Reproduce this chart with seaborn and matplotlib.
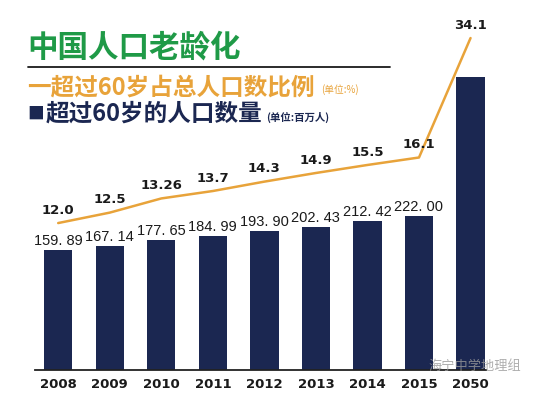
import numpy as np
import pandas as pd
import matplotlib
matplotlib.use("Agg")
import matplotlib.pyplot as plt
from matplotlib.lines import Line2D
import seaborn as sns

years = ["2008", "2009", "2010", "2011", "2012", "2013", "2014", "2015", "2050"]
elderly_millions = [159.89, 167.14, 177.65, 184.99, 193.90, 202.43, 212.42, 222.00, 476.0]
bar_labels = ["159. 89", "167. 14", "177. 65", "184. 99", "193. 90", "202. 43", "212. 42", "222. 00", ""]
share_pct = [12.0, 12.5, 13.26, 13.7, 14.3, 14.9, 15.5, 16.1, 34.1]
share_labels = ["12.0", "12.5", "13.26", "13.7", "14.3", "14.9", "15.5", "16.1", "34.1"]

NAVY = "#1b2751"
ORANGE = "#e8a33a"
GREEN = "#1f9a47"

sns.set_style("white")
plt.rcParams["font.family"] = ["Noto Sans CJK SC", "DejaVu Sans"]

W, H = 533, 396
fig = plt.figure(figsize=(W / 100, H / 100), dpi=100)
fig.patch.set_facecolor("white")

def fx(px):
    return px / W

def fy(py):
    return 1 - py / H

ax = fig.add_axes([fx(35), fy(370), fx(486) - fx(35), fy(30) - fy(370)])
df = pd.DataFrame({"year": years, "value": elderly_millions})
sns.barplot(data=df, x="year", y="value", color=NAVY, width=0.55, saturation=1,
            ax=ax, errorbar=None)
ymin, ymax = -59.4, 562
ax.set_ylim(ymin, ymax)
ax.set_xlim(-0.45, 8.3)
for p in ax.patches:
    top = p.get_y() + p.get_height()
    p.set_y(ymin)
    p.set_height(top - ymin)
    p.set_edgecolor("none")

for i, (v, lab) in enumerate(zip(elderly_millions, bar_labels)):
    if lab:
        ax.annotate(lab, (i, v), xytext=(0, 1.5), textcoords="offset points",
                    ha="center", va="bottom", fontsize=10.5, color="#1a1a1a",
                    family=["Liberation Sans", "DejaVu Sans"])

for s in ["top", "left", "right"]:
    ax.spines[s].set_visible(False)
ax.spines["bottom"].set_color("#222222")
ax.spines["bottom"].set_linewidth(1.3)
ax.set_yticks([])
ax.set_xlabel("")
ax.set_ylabel("")
ax.tick_params(axis="x", length=0, pad=6)
for t in ax.get_xticklabels():
    t.set_fontfamily(["DejaVu Sans"])
    t.set_fontweight("bold")
    t.set_fontsize(9.5)
    t.set_color("#1a1a1a")

ax2 = ax.twinx()
ax2.set_yscale("function", functions=(lambda v: np.log(np.clip(v - 7, 1e-6, None)),
                                      lambda u: np.exp(u) + 7))
sns.lineplot(x=np.arange(len(years)), y=share_pct, ax=ax2, color=ORANGE, linewidth=1.8)
ax2.set_ylim(8.306, 36.17)
ax2.set_yticks([])
ax2.minorticks_off()
ax2.set_ylabel("")
for s in ["top", "left", "right", "bottom"]:
    ax2.spines[s].set_visible(False)
for i, (v, lab) in enumerate(zip(share_pct, share_labels)):
    ax2.annotate(lab, (i, v), xytext=(0, 4.5), textcoords="offset points",
                 ha="center", va="bottom", fontsize=9.5, fontweight="bold",
                 color="#1a1a1a", family=["DejaVu Sans"])

# Title and legend texts
fig.text(fx(27), fy(47), "中国人口老龄化", fontsize=22, fontweight="heavy",
         color=GREEN, ha="left", va="center")
fig.add_artist(Line2D([fx(28), fx(390)], [fy(67), fy(67)], color="#1a1a1a",
                      linewidth=1.3, transform=fig.transFigure))
t1 = fig.text(fx(27), fy(88), "一超过60岁占总人口数比例", fontsize=17,
              fontweight="bold", color=ORANGE, ha="left", va="center")
fig.text(fx(27), fy(114), "■", fontsize=12, color=NAVY, ha="left", va="center")
t2 = fig.text(fx(46), fy(114), "超过60岁的人口数量", fontsize=17,
              fontweight="bold", color=NAVY, ha="left", va="center")

fig.canvas.draw()
r = fig.canvas.get_renderer()
e1 = t1.get_window_extent(r)
e2 = t2.get_window_extent(r)
fig.text((e1.x1 + 6) / W, fy(90), "(单位:%)", fontsize=7, color=ORANGE,
         ha="left", va="center")
fig.text((e2.x1 + 3) / W, fy(117), "(单位:百万人)", fontsize=7.5, fontweight="bold",
         color=NAVY, ha="left", va="center")

# watermark
fig.text(fx(428), fy(366), "海宁中学地理组", fontsize=9.5, color="#9a9a9a",
         alpha=0.8, ha="left", va="center")

fig.savefig("out.png", dpi=100, facecolor="white")
